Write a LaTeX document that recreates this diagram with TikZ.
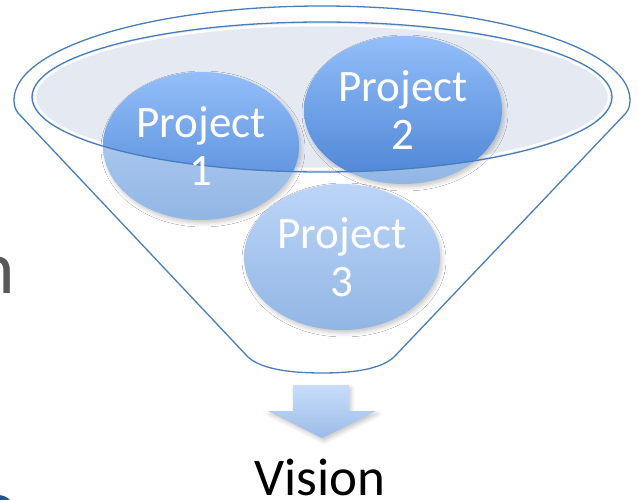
\documentclass[tikz,border=0pt]{standalone}
\usepackage{fontspec}
\setmainfont{Carlito}
\usetikzlibrary{shadows.blur}
\definecolor{edgeblue}{HTML}{4A7EBB}
\definecolor{innerfill}{HTML}{E4E9F2}
\definecolor{ctop}{HTML}{93BEF9}
\definecolor{cbot}{HTML}{4C84D5}
\definecolor{ftop}{HTML}{BCD5F8}
\definecolor{fbot}{HTML}{92B6E4}
\definecolor{atop}{HTML}{C9DDFA}
\definecolor{abot}{HTML}{9BBCE8}
\definecolor{grayt}{HTML}{595959}
\definecolor{bulletblue}{HTML}{1F5597}
\tikzset{
  edge/.style={draw=edgeblue, line width=1.3pt},
  projtext/.style={text=white, align=center, inner sep=0pt,
    font=\fontsize{45}{48}\selectfont},
  faded/.style={top color=ftop, bottom color=fbot},
  strong/.style={top color=ctop, bottom color=cbot},
  softshadow/.style={blur shadow={shadow xshift=2pt, shadow yshift=-3pt,
    shadow blur radius=4pt, shadow opacity=22}},
}
\begin{document}
\begin{tikzpicture}[x=1pt,y=-1pt]
\useasboundingbox (0,0) rectangle (638,500);
% left cut-off elements
\node[anchor=base east, inner sep=0pt, text=grayt,
  font=\fontsize{75}{80}\selectfont] (nchar) at (15.5,293) {n};
\fill[bulletblue] (-2,512) circle[radius=17];
% funnel outline
\path[edge, fill=white] (14,100) arc[start angle=180, end angle=360, x radius=308, y radius=94]
  .. controls (630,105) and (629,109) .. (626,113)
  -- (394,357) .. controls (380,370) and (350,373) .. (322,373)
  .. controls (294,373) and (262,370) .. (248,357)
  -- (18,113) .. controls (15,109) and (14,105) .. (14,100) -- cycle;
% inner ellipse
\fill[innerfill] (322,97) ellipse[x radius=290, y radius=75];
\draw[white, line width=2.5pt] (322,97) ellipse[x radius=287, y radius=72];
% circles (faded, outside)
\path[faded, softshadow] (201,146) ellipse[x radius=98, y radius=74];
\path[faded, softshadow] (403,110) ellipse[x radius=99, y radius=74];
\path[faded, softshadow] (342,257) ellipse[x radius=98, y radius=73];
% circles (strong, inside inner ellipse)
\begin{scope}
  \clip (322,97) ellipse[x radius=290, y radius=75];
  \path[strong] (201,146) ellipse[x radius=98, y radius=74];
  \path[strong] (403,110) ellipse[x radius=99, y radius=74];
\end{scope}
\draw[edge] (322,97) ellipse[x radius=290, y radius=75];
% texts
\node[projtext] (p1) at (201,146) {Project\\1};
\node[projtext] (p2) at (403,110) {Project\\2};
\node[projtext] (p3) at (342,257) {Project\\3};
% arrow
\path[top color=atop, bottom color=abot, softshadow]
  (293,385) -- (349,385) -- (349,411) -- (376,411) -- (322,438)
  -- (268,411) -- (293,411) -- cycle;
\node[anchor=base, inner sep=0pt, font=\fontsize{53}{60}\selectfont] (vision) at (320,495) {Vision};
\end{tikzpicture}
\end{document}
